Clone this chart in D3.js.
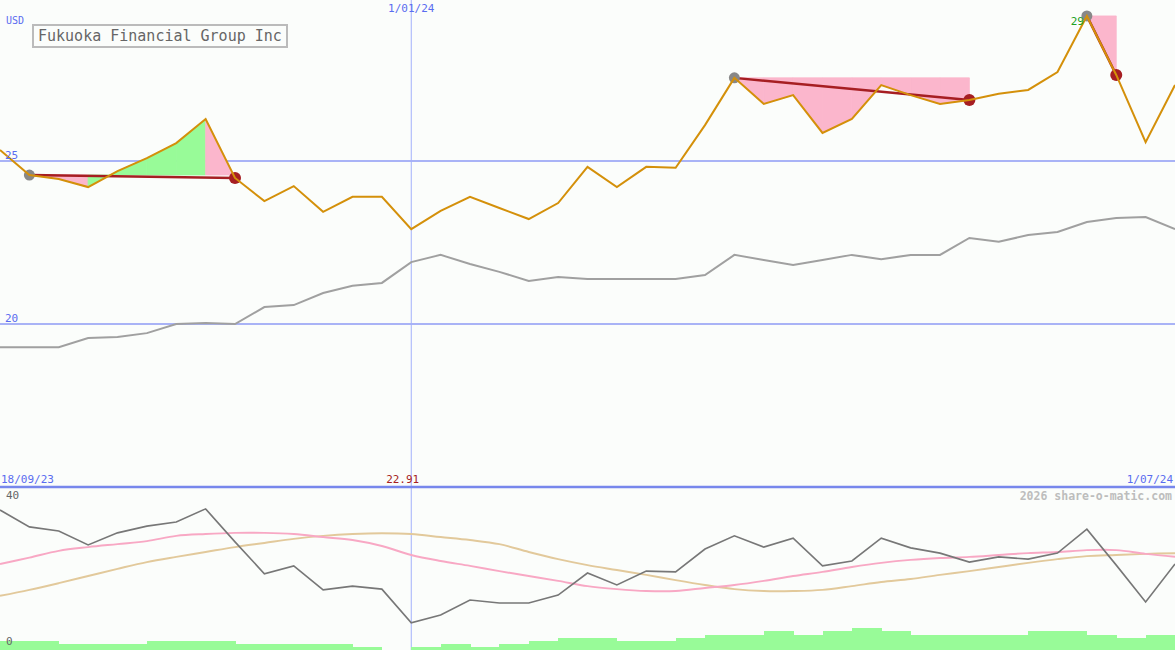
<!DOCTYPE html>
<html><head><meta charset="utf-8">
<script src="https://cdn.jsdelivr.net/npm/d3@7"></script>
<style>
html,body{margin:0;padding:0;background:#fbfdfb;}
svg{display:block;font-family:"DejaVu Sans Mono","Liberation Mono",monospace;}
</style></head>
<body><svg id="c" width="1175" height="650"></svg>
<script>
// ---------- data ----------
const title = "Fukuoka Financial Group Inc";
const currency = "USD";
const dates = ["25/09/23","2/10/23","9/10/23","16/10/23","23/10/23","30/10/23","6/11/23","13/11/23","20/11/23","27/11/23",
  "4/12/23","11/12/23","18/12/23","25/12/23","1/01/24","8/01/24","15/01/24","22/01/24","29/01/24","5/02/24",
  "12/02/24","19/02/24","26/02/24","4/03/24","11/03/24","18/03/24","25/03/24","1/04/24","8/04/24","15/04/24",
  "22/04/24","29/04/24","6/05/24","13/05/24","20/05/24","27/05/24","3/06/24","10/06/24","17/06/24","24/06/24","1/07/24"];
const price = [25.34,24.57,24.45,24.20,24.69,25.09,25.55,26.29,24.48,23.77,
  24.23,23.44,23.90,23.90,22.91,23.47,23.90,23.56,23.22,23.71,
  24.82,24.20,24.82,24.79,26.10,27.55,26.75,27.02,25.86,26.29,
  27.33,27.02,26.75,26.87,27.06,27.18,27.73,29.45,27.64,25.58,27.33];
const compare = [19.29,19.29,19.29,19.57,19.60,19.72,20.00,20.03,20.00,20.52,
  20.58,20.95,21.17,21.26,21.90,22.12,21.84,21.60,21.32,21.44,
  21.38,21.38,21.38,21.38,21.50,22.12,21.96,21.81,21.96,22.12,
  21.99,22.12,22.12,22.64,22.52,22.73,22.82,23.13,23.25,23.28,22.91];
const osc = [36.0,31.5,30.4,26.7,29.9,31.7,32.8,36.3,27.5,19.0,
  21.1,14.7,15.7,14.9,5.9,8.0,12.0,11.2,11.2,13.3,
  19.2,16.0,19.7,19.5,25.6,29.1,26.1,28.5,21.1,22.4,
  28.5,25.9,24.5,22.1,23.5,22.9,24.5,30.9,21.3,11.5,21.6];
const oscFast = [21.6,23.3,25.1,26.1,26.9,27.7,29.1,29.6,29.9,29.9,
  29.6,28.8,28.0,26.4,24.0,22.4,21.1,19.7,18.4,17.1,
  15.7,14.9,14.4,14.4,15.2,16.0,17.1,18.4,19.5,20.8,
  21.9,22.7,23.2,23.5,24.0,24.5,24.8,25.3,25.3,24.3,23.5];
const oscSlow = [13.1,14.7,16.5,18.4,20.3,22.1,23.5,24.8,26.1,27.2,
  28.3,29.1,29.6,29.8,29.6,28.8,28.0,26.9,24.8,22.9,
  21.3,20.0,18.7,17.3,16.0,14.9,14.4,14.4,14.7,15.7,
  16.8,17.6,18.7,19.7,20.8,21.9,22.9,23.7,24.0,24.3,24.5];
const volume = [3,3,2,2,2,3,3,3,2,2,
  2,2,1,0,1,2,1,2,3,4,
  4,3,3,4,5,5,6,5,6,7,
  6,5,5,5,5,6,6,5,4,5];
// trades: entry index, exit index
const tradeEntry = [1,25,37];
const tradeExit = [8,33,38];
const priceTicks = [20,25];
const oscTicks = [0,40];
const xLabelStart = "18/09/23";
const xLabelMid = "1/01/24";
const xLabelEnd = "1/07/24";
const minLabel = "22.91";
const maxLabel = "29";
const credit = "2026 share-o-matic.com";

// ---------- scales ----------
const W = 1175, H = 650;
const svg = d3.select("#c");
const x = d3.scalePoint().domain(dates).range([0, W]);
const xi = i => x(dates[i]);
const y = d3.scaleLinear().domain([20,25]).range([324,161]);
const yo = d3.scaleLinear().domain([0,40]).range([645,495]);
const yv = d3.scaleLinear().domain([0,10]).range([650,619]);

svg.append("rect").attr("width",W).attr("height",H).attr("fill","#fbfdfb");

// grid
svg.selectAll(".hg").data(priceTicks).join("line")
  .attr("x1",0).attr("x2",W).attr("y1",d=>y(d)).attr("y2",d=>y(d))
  .attr("stroke","#a9b3f6").attr("stroke-width",2);
svg.append("line").attr("x1",xi(14)).attr("x2",xi(14)).attr("y1",0).attr("y2",H)
  .attr("stroke","#a3b0fb").attr("stroke-width",1);

// volume bars
svg.selectAll(".vb").data(volume).join("rect")
  .attr("x",(d,i)=>xi(i)).attr("width",(d,i)=>xi(i+1)-xi(i)+0.5)
  .attr("y",d=>yv(d)).attr("height",d=>yv(0)-yv(d))
  .attr("fill","#98fb98").attr("shape-rendering","crispEdges");

// trade fills
tradeEntry.forEach((e,k)=>{
  const ex = tradeExit[k];
  const base = y(price[e]);
  for(let i=e;i<ex;i++){
    const pts = [[xi(i),base],[xi(i),y(price[i])],[xi(i+1),y(price[i+1])],[xi(i+1),base]];
    const col = price[i+1] > price[e] ? "#98fb98" : "#fbb6cc";
    svg.append("path").attr("d",d3.line()(pts)+"Z")
      .attr("fill", col).attr("stroke", col).attr("stroke-width",0.8);
  }
  svg.append("line").attr("x1",xi(e)).attr("y1",y(price[e])).attr("x2",xi(ex)).attr("y2",y(price[ex]))
    .attr("stroke","#a61e22").attr("stroke-width",2.5);
  svg.append("circle").attr("cx",xi(e)).attr("cy",y(price[e])).attr("r",5.5).attr("fill","#888");
  svg.append("circle").attr("cx",xi(ex)).attr("cy",y(price[ex])).attr("r",6).attr("fill","#a61e22");
});

// lines
svg.append("path").datum(compare).attr("d",d3.line().x((d,i)=>xi(i)).y(d=>y(d))).attr("fill","none")
  .attr("stroke","#a0a0a0").attr("stroke-width",2);
svg.append("path").datum(price).attr("d",d3.line().x((d,i)=>xi(i)).y(d=>y(d))).attr("fill","none")
  .attr("stroke","#d4900a").attr("stroke-width",2);

const lo = d3.line().x((d,i)=>xi(i)).y(d=>yo(d));
const loS = d3.line().x((d,i)=>xi(i)).y(d=>yo(d)).curve(d3.curveCatmullRom.alpha(0.5));
svg.append("path").datum(oscSlow).attr("d",loS).attr("fill","none").attr("stroke","#e2c99b").attr("stroke-width",2);
svg.append("path").datum(oscFast).attr("d",loS).attr("fill","none").attr("stroke","#f8a8c4").attr("stroke-width",2);
svg.append("path").datum(osc).attr("d",lo).attr("fill","none").attr("stroke","#777").attr("stroke-width",1.6);

// separator
svg.append("line").attr("x1",0).attr("x2",W).attr("y1",487).attr("y2",487)
  .attr("stroke","#7787ec").attr("stroke-width",2.5);

// texts
const blue = "#5a6cf0";
svg.append("text").attr("x",6).attr("y",24).attr("font-size",10).attr("fill",blue).text(currency);
svg.selectAll(".pt").data(priceTicks).join("text").attr("x",5).attr("y",d=>y(d)-2)
  .attr("font-size",11).attr("fill",blue).text(d=>d);
svg.append("text").attr("x",xi(14)).attr("y",12).attr("text-anchor","middle").attr("font-size",11).attr("fill",blue).text(xLabelMid);
svg.append("text").attr("x",1).attr("y",483).attr("font-size",11).attr("fill",blue).text(xLabelStart);
svg.append("text").attr("x",1173).attr("y",483).attr("text-anchor","end").attr("font-size",11).attr("fill",blue).text(xLabelEnd);
svg.append("text").attr("x",xi(14)+8).attr("y",483).attr("text-anchor","end").attr("font-size",11).attr("fill","#a61e22").text(minLabel);
svg.append("text").attr("x",xi(37)-3).attr("y",25).attr("text-anchor","end").attr("font-size",11).attr("fill","#22a022").text(maxLabel);
svg.append("text").attr("x",1172).attr("y",500).attr("text-anchor","end").attr("font-size",11.5).attr("font-weight","bold").attr("fill","#bdbdbd").text(credit);
svg.selectAll(".ot").data(oscTicks).join("text").attr("x",6).attr("y",d=>yo(d)+(d===0?0:4))
  .attr("font-size",11).attr("fill","#666").text(d=>d);

// title box
svg.append("rect").attr("x",33).attr("y",25).attr("width",254).attr("height",22)
  .attr("fill","#fbfdfb").attr("stroke","#bbb").attr("stroke-width",2);
svg.append("text").attr("x",38).attr("y",41).attr("font-size",15).attr("fill","#666").text(title);
</script></body></html>
